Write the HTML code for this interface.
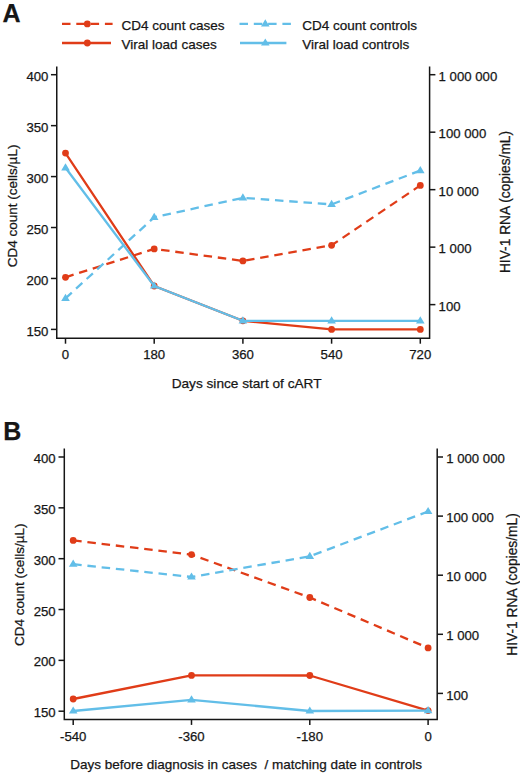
<!DOCTYPE html>
<html><head><meta charset="utf-8"><style>
html,body{margin:0;padding:0;background:#fff;}
svg{display:block;}
text{font-family:"Liberation Sans",sans-serif;fill:#161616;stroke:#161616;stroke-width:0.25px;}
</style></head><body>
<svg width="520" height="773" viewBox="0 0 520 773">
<rect width="520" height="773" fill="#fff"/>
<text x="2.6" y="21.8" font-size="25" font-weight="bold">A</text>
<text x="3.2" y="439.6" font-size="25" font-weight="bold">B</text>
<path d="M62 23.9H112.6" stroke="#E03C18" stroke-width="2.3" stroke-dasharray="8.5 5.8"/>
<circle cx="87.30" cy="23.90" r="3.4" fill="#E03C18"/>
<text x="121.60" y="29.80" font-size="13.5" text-anchor="start">CD4 count cases</text>
<path d="M62 43.0H111.0" stroke="#E03C18" stroke-width="2.3"/>
<circle cx="87.30" cy="43.00" r="3.4" fill="#E03C18"/>
<text x="121.60" y="48.80" font-size="13.5" text-anchor="start">Viral load cases</text>
<path d="M239.5 23.9H291.0" stroke="#62BEE8" stroke-width="2.3" stroke-dasharray="8.5 5.8"/>
<path d="M265.30 19.30L269.60 26.50L261.00 26.50Z" fill="#62BEE8"/>
<text x="302.20" y="29.80" font-size="13.5" text-anchor="start">CD4 count controls</text>
<path d="M240.0 43.0H286.4" stroke="#62BEE8" stroke-width="2.3"/>
<path d="M265.30 38.40L269.60 45.60L261.00 45.60Z" fill="#62BEE8"/>
<text x="302.20" y="48.80" font-size="13.5" text-anchor="start">Viral load controls</text>
<path d="M56.75 66.4V338.3H429.6V66.4" fill="none" stroke="#161616" stroke-width="1.5"/>
<path d="M50.95 74.7H56.75" stroke="#161616" stroke-width="1.5"/>
<text x="48.40" y="80.80" font-size="13.2" text-anchor="end">400</text>
<path d="M50.95 125.64H56.75" stroke="#161616" stroke-width="1.5"/>
<text x="48.40" y="131.74" font-size="13.2" text-anchor="end">350</text>
<path d="M50.95 176.57999999999998H56.75" stroke="#161616" stroke-width="1.5"/>
<text x="48.40" y="182.68" font-size="13.2" text-anchor="end">300</text>
<path d="M50.95 227.51999999999998H56.75" stroke="#161616" stroke-width="1.5"/>
<text x="48.40" y="233.62" font-size="13.2" text-anchor="end">250</text>
<path d="M50.95 278.46H56.75" stroke="#161616" stroke-width="1.5"/>
<text x="48.40" y="284.56" font-size="13.2" text-anchor="end">200</text>
<path d="M50.95 329.4H56.75" stroke="#161616" stroke-width="1.5"/>
<text x="48.40" y="335.50" font-size="13.2" text-anchor="end">150</text>
<path d="M429.6 74.7H435.40000000000003" stroke="#161616" stroke-width="1.5"/>
<text x="438.60" y="80.80" font-size="13.2" text-anchor="start">1 000 000</text>
<path d="M429.6 132.18H435.40000000000003" stroke="#161616" stroke-width="1.5"/>
<text x="438.60" y="138.28" font-size="13.2" text-anchor="start">100 000</text>
<path d="M429.6 189.66H435.40000000000003" stroke="#161616" stroke-width="1.5"/>
<text x="438.60" y="195.76" font-size="13.2" text-anchor="start">10 000</text>
<path d="M429.6 247.14H435.40000000000003" stroke="#161616" stroke-width="1.5"/>
<text x="438.60" y="253.24" font-size="13.2" text-anchor="start">1 000</text>
<path d="M429.6 304.62H435.40000000000003" stroke="#161616" stroke-width="1.5"/>
<text x="438.60" y="310.72" font-size="13.2" text-anchor="start">100</text>
<path d="M65.5 338.3V343.7" stroke="#161616" stroke-width="1.5"/>
<text x="65.50" y="359.10" font-size="13.2" text-anchor="middle">0</text>
<path d="M154.2 338.3V343.7" stroke="#161616" stroke-width="1.5"/>
<text x="154.20" y="359.10" font-size="13.2" text-anchor="middle">180</text>
<path d="M242.9 338.3V343.7" stroke="#161616" stroke-width="1.5"/>
<text x="242.90" y="359.10" font-size="13.2" text-anchor="middle">360</text>
<path d="M331.6 338.3V343.7" stroke="#161616" stroke-width="1.5"/>
<text x="331.60" y="359.10" font-size="13.2" text-anchor="middle">540</text>
<path d="M420.3 338.3V343.7" stroke="#161616" stroke-width="1.5"/>
<text x="420.30" y="359.10" font-size="13.2" text-anchor="middle">720</text>
<text transform="translate(16.6 205.9) rotate(-90)" font-size="13.5" text-anchor="middle">CD4 count (cells/µL)</text>
<text transform="translate(510.4 202.0) rotate(-90)" font-size="13.75" text-anchor="middle">HIV-1 RNA (copies/mL)</text>
<text x="246.60" y="388.40" font-size="13.65" text-anchor="middle" xml:space="preserve">Days since start of cART</text>
<polyline points="65.50,277.30 154.20,248.90 242.90,260.90 331.60,245.30 420.30,185.40" fill="none" stroke="#E03C18" stroke-width="2.3" stroke-dasharray="8.5 5.8" stroke-linejoin="round"/>
<circle cx="65.50" cy="277.30" r="3.4" fill="#E03C18"/>
<circle cx="154.20" cy="248.90" r="3.4" fill="#E03C18"/>
<circle cx="242.90" cy="260.90" r="3.4" fill="#E03C18"/>
<circle cx="331.60" cy="245.30" r="3.4" fill="#E03C18"/>
<circle cx="420.30" cy="185.40" r="3.4" fill="#E03C18"/>
<polyline points="65.50,298.30 154.20,217.30 242.90,197.80 331.60,204.40 420.30,170.60" fill="none" stroke="#62BEE8" stroke-width="2.3" stroke-dasharray="8.5 5.8" stroke-linejoin="round"/>
<path d="M65.50 293.70L69.80 300.90L61.20 300.90Z" fill="#62BEE8"/>
<path d="M154.20 212.70L158.50 219.90L149.90 219.90Z" fill="#62BEE8"/>
<path d="M242.90 193.20L247.20 200.40L238.60 200.40Z" fill="#62BEE8"/>
<path d="M331.60 199.80L335.90 207.00L327.30 207.00Z" fill="#62BEE8"/>
<path d="M420.30 166.00L424.60 173.20L416.00 173.20Z" fill="#62BEE8"/>
<polyline points="65.50,153.10 154.20,286.00 242.90,320.80 331.60,329.40 420.30,329.40" fill="none" stroke="#E03C18" stroke-width="2.3" stroke-linejoin="round"/>
<circle cx="65.50" cy="153.10" r="3.4" fill="#E03C18"/>
<circle cx="154.20" cy="286.00" r="3.4" fill="#E03C18"/>
<circle cx="242.90" cy="320.80" r="3.4" fill="#E03C18"/>
<circle cx="331.60" cy="329.40" r="3.4" fill="#E03C18"/>
<circle cx="420.30" cy="329.40" r="3.4" fill="#E03C18"/>
<polyline points="65.50,167.80 154.20,286.00 242.90,320.80 331.60,320.80 420.30,320.80" fill="none" stroke="#62BEE8" stroke-width="2.3" stroke-linejoin="round"/>
<path d="M65.50 163.20L69.80 170.40L61.20 170.40Z" fill="#62BEE8"/>
<path d="M154.20 281.40L158.50 288.60L149.90 288.60Z" fill="#62BEE8"/>
<path d="M242.90 316.20L247.20 323.40L238.60 323.40Z" fill="#62BEE8"/>
<path d="M331.60 316.20L335.90 323.40L327.30 323.40Z" fill="#62BEE8"/>
<path d="M420.30 316.20L424.60 323.40L416.00 323.40Z" fill="#62BEE8"/>
<path d="M64.3 448.5V719.5H437.2V448.5" fill="none" stroke="#161616" stroke-width="1.5"/>
<path d="M58.5 457.0H64.3" stroke="#161616" stroke-width="1.5"/>
<text x="55.70" y="463.10" font-size="13.2" text-anchor="end">400</text>
<path d="M58.5 507.84000000000003H64.3" stroke="#161616" stroke-width="1.5"/>
<text x="55.70" y="513.94" font-size="13.2" text-anchor="end">350</text>
<path d="M58.5 558.6800000000001H64.3" stroke="#161616" stroke-width="1.5"/>
<text x="55.70" y="564.78" font-size="13.2" text-anchor="end">300</text>
<path d="M58.5 609.52H64.3" stroke="#161616" stroke-width="1.5"/>
<text x="55.70" y="615.62" font-size="13.2" text-anchor="end">250</text>
<path d="M58.5 660.36H64.3" stroke="#161616" stroke-width="1.5"/>
<text x="55.70" y="666.46" font-size="13.2" text-anchor="end">200</text>
<path d="M58.5 711.2H64.3" stroke="#161616" stroke-width="1.5"/>
<text x="55.70" y="717.30" font-size="13.2" text-anchor="end">150</text>
<path d="M437.2 457.0H443.0" stroke="#161616" stroke-width="1.5"/>
<text x="446.20" y="463.10" font-size="13.2" text-anchor="start">1 000 000</text>
<path d="M437.2 516.1H443.0" stroke="#161616" stroke-width="1.5"/>
<text x="446.20" y="522.20" font-size="13.2" text-anchor="start">100 000</text>
<path d="M437.2 575.2H443.0" stroke="#161616" stroke-width="1.5"/>
<text x="446.20" y="581.30" font-size="13.2" text-anchor="start">10 000</text>
<path d="M437.2 634.3H443.0" stroke="#161616" stroke-width="1.5"/>
<text x="446.20" y="640.40" font-size="13.2" text-anchor="start">1 000</text>
<path d="M437.2 693.4H443.0" stroke="#161616" stroke-width="1.5"/>
<text x="446.20" y="699.50" font-size="13.2" text-anchor="start">100</text>
<path d="M73.2 719.5V724.9" stroke="#161616" stroke-width="1.5"/>
<text x="73.20" y="740.80" font-size="13.2" text-anchor="middle">-540</text>
<path d="M191.5 719.5V724.9" stroke="#161616" stroke-width="1.5"/>
<text x="191.50" y="740.80" font-size="13.2" text-anchor="middle">-360</text>
<path d="M309.8 719.5V724.9" stroke="#161616" stroke-width="1.5"/>
<text x="309.80" y="740.80" font-size="13.2" text-anchor="middle">-180</text>
<path d="M428.1 719.5V724.9" stroke="#161616" stroke-width="1.5"/>
<text x="428.10" y="740.80" font-size="13.2" text-anchor="middle">0</text>
<text transform="translate(24.3 584.7) rotate(-90)" font-size="13.5" text-anchor="middle">CD4 count (cells/µL)</text>
<text transform="translate(516.7 584.5) rotate(-90)" font-size="13.8" text-anchor="middle">HIV-1 RNA (copies/mL)</text>
<text x="70.20" y="769.00" font-size="13.5" text-anchor="start" xml:space="preserve">Days before diagnosis in cases  / matching date in controls</text>
<polyline points="73.20,540.40 191.50,554.60 309.80,597.50 428.10,647.90" fill="none" stroke="#E03C18" stroke-width="2.3" stroke-dasharray="8.5 5.8" stroke-linejoin="round"/>
<circle cx="73.20" cy="540.40" r="3.4" fill="#E03C18"/>
<circle cx="191.50" cy="554.60" r="3.4" fill="#E03C18"/>
<circle cx="309.80" cy="597.50" r="3.4" fill="#E03C18"/>
<circle cx="428.10" cy="647.90" r="3.4" fill="#E03C18"/>
<polyline points="73.20,564.20 191.50,577.00 309.80,556.30 428.10,511.50" fill="none" stroke="#62BEE8" stroke-width="2.3" stroke-dasharray="8.5 5.8" stroke-linejoin="round"/>
<path d="M73.20 559.60L77.50 566.80L68.90 566.80Z" fill="#62BEE8"/>
<path d="M191.50 572.40L195.80 579.60L187.20 579.60Z" fill="#62BEE8"/>
<path d="M309.80 551.70L314.10 558.90L305.50 558.90Z" fill="#62BEE8"/>
<path d="M428.10 506.90L432.40 514.10L423.80 514.10Z" fill="#62BEE8"/>
<polyline points="73.20,699.00 191.50,675.40 309.80,675.50 428.10,710.60" fill="none" stroke="#E03C18" stroke-width="2.3" stroke-linejoin="round"/>
<circle cx="73.20" cy="699.00" r="3.4" fill="#E03C18"/>
<circle cx="191.50" cy="675.40" r="3.4" fill="#E03C18"/>
<circle cx="309.80" cy="675.50" r="3.4" fill="#E03C18"/>
<circle cx="428.10" cy="710.60" r="3.4" fill="#E03C18"/>
<polyline points="73.20,711.00 191.50,699.90 309.80,711.00 428.10,710.60" fill="none" stroke="#62BEE8" stroke-width="2.3" stroke-linejoin="round"/>
<path d="M73.20 706.40L77.50 713.60L68.90 713.60Z" fill="#62BEE8"/>
<path d="M191.50 695.30L195.80 702.50L187.20 702.50Z" fill="#62BEE8"/>
<path d="M309.80 706.40L314.10 713.60L305.50 713.60Z" fill="#62BEE8"/>
<path d="M428.10 706.00L432.40 713.20L423.80 713.20Z" fill="#62BEE8"/>
</svg>
</body></html>
